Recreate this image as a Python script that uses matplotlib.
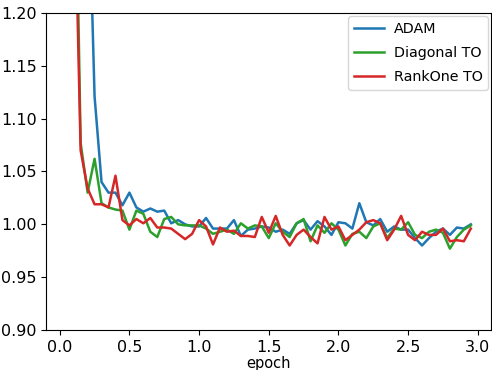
import matplotlib
matplotlib.use("Agg")
import matplotlib.pyplot as plt
import numpy as np

# epoch grid: one evaluation every 0.05 epoch
epoch = np.arange(1, 60) * 0.05

adam = [
    2.500, 1.900, 1.600, 1.360, 1.121, 1.040, 1.030, 1.030, 1.018, 1.030,
    1.016, 1.012, 1.015, 1.012, 1.013, 1.001, 1.004, 1.000, 0.998, 0.998,
    1.006, 0.996, 0.996, 0.996, 1.004, 0.989, 0.995, 0.996, 0.998, 0.997,
    0.993, 0.995, 0.991, 1.001, 1.004, 0.995, 1.003, 0.998, 0.990, 1.002,
    1.001, 0.996, 1.020, 1.002, 0.999, 1.005, 0.993, 0.998, 0.995, 0.995,
    0.987, 0.980, 0.987, 0.993, 0.996, 0.990, 0.997, 0.996, 1.000,
]

diagonal_to = [
    2.500, 1.450, 1.077, 1.030, 1.062, 1.020, 1.016, 1.014, 1.013, 0.995,
    1.013, 1.010, 0.993, 0.988, 1.005, 1.007, 1.000, 0.999, 0.999, 0.999,
    0.996, 0.991, 0.993, 0.995, 0.991, 1.001, 0.996, 0.999, 0.998, 0.987,
    1.001, 0.993, 0.988, 1.001, 1.005, 0.984, 0.999, 0.992, 1.001, 0.995,
    0.980, 0.991, 0.993, 0.987, 0.998, 1.001, 0.987, 0.996, 0.995, 1.002,
    0.990, 0.987, 0.993, 0.995, 0.992, 0.977, 0.988, 0.995, 0.999,
]

rankone_to = [
    2.000, 1.360, 1.070, 1.034, 1.019, 1.019, 1.016, 1.046, 1.004, 0.999,
    1.005, 1.001, 1.006, 0.997, 0.997, 0.996, 0.991, 0.986, 0.991, 1.004,
    0.998, 0.981, 0.997, 0.993, 0.994, 0.989, 0.989, 0.988, 1.007, 0.992,
    1.008, 0.990, 0.980, 0.990, 0.995, 0.988, 0.982, 1.007, 0.995, 0.998,
    0.985, 0.990, 0.995, 1.002, 1.004, 1.001, 0.985, 0.995, 1.008, 0.990,
    0.985, 0.993, 0.990, 0.990, 0.996, 0.984, 0.985, 0.984, 0.996,
]

fig = plt.figure(figsize=(4.92, 3.70), dpi=100)
ax = fig.add_axes([0.0945, 0.108, 0.9035, 0.857])

ax.plot(epoch, adam, color="#1f77b4", lw=1.8, label="ADAM")
ax.plot(epoch, diagonal_to, color="#2ca02c", lw=1.8, label="Diagonal TO")
ax.plot(epoch, rankone_to, color="#d62728", lw=1.8, label="RankOne TO")

ax.set_ylim(0.90, 1.20)
ax.set_yticks(np.arange(0.90, 1.201, 0.05))
ax.set_xticks(np.arange(0, 3.01, 0.5))
ax.tick_params(labelsize=11.5)
ax.set_xlabel("epoch", fontsize=10.5, labelpad=1)
ax.legend(
    loc="upper right",
    fontsize=10.3,
    borderaxespad=0.2,
    labelspacing=0.72,
    handlelength=2.1,
    handletextpad=0.7,
)

fig.savefig("out.png", dpi=100)
